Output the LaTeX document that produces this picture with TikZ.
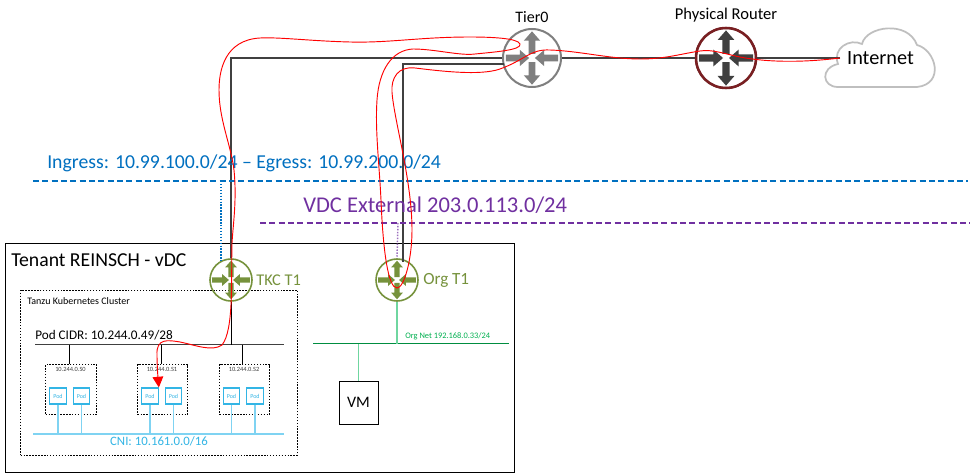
\documentclass[tikz,border=0pt]{standalone}
\usepackage{fontspec}
\setmainfont{Carlito}
\usetikzlibrary{arrows.meta}
\definecolor{rgray}{HTML}{7F7F7F}
\definecolor{rdark}{HTML}{404040}
\definecolor{rmaroon}{HTML}{7A1F22}
\definecolor{rgreen}{HTML}{76923C}
\definecolor{ablue}{HTML}{0070C0}
\definecolor{apurple}{HTML}{7030A0}
\definecolor{podblue}{HTML}{33B5E5}
\definecolor{cnilight}{HTML}{7FD3F2}
\definecolor{netgreen}{HTML}{00B050}
\definecolor{stemgreen}{HTML}{6FD6A0}
\definecolor{cloudgray}{HTML}{BFBFBF}
\definecolor{pathred}{HTML}{FF0000}
\tikzset{
  wire/.style={draw=rdark,line width=0.8pt},
  blackwire/.style={draw=black,line width=0.75pt},
  dotbox/.style={draw=black,dash pattern=on 1.1pt off 1.1pt,line width=0.85pt,inner sep=0pt},
  podbox/.style={draw=podblue,line width=0.8pt,fill=white,minimum width=12.5pt,minimum height=12pt,inner sep=0pt,font=\fontsize{4.5}{5}\selectfont,text=podblue},
  podstem/.style={draw=cnilight,line width=1pt},
  label/.style={inner sep=0pt,anchor=west},
  bluedash/.style={draw=ablue,dash pattern=on 4.5pt off 2.5pt,line width=1.2pt},
  purpledash/.style={draw=apurple,dash pattern=on 4.5pt off 2.5pt,line width=1.2pt},
  redpath/.style={draw=pathred,line width=0.7pt},
}
\newcommand{\routerglyph}[6]{%
  \node[circle,draw=#5,line width=#6,minimum size=#4*1.5pt,inner sep=0pt] (#1) at (#2,#3) {};
  \pgfmathsetmacro{\rrunit}{#4*0.75}
  \begin{scope}[shift={(#1)},x=\rrunit pt,y=\rrunit pt]
    \foreach \a in {0,180}{
      \fill[rotate=\a,fill=#5] (-0.9,-.12)--(-0.42,-.12)--(-0.42,-.28)--(-0.1,0)--(-.42,.28)--(-.42,.12)--(-.9,.12)--cycle;
    }
    \foreach \a in {90,270}{
      \fill[rotate=\a,fill=#5] (0.14,-.12)--(0.6,-.12)--(0.6,-.28)--(0.92,0)--(.6,.28)--(.6,.12)--(.14,.12)--cycle;
    }
  \end{scope}
}
\begin{document}
\begin{tikzpicture}[x=0.75pt,y=-0.75pt]
\useasboundingbox (0,0) rectangle (971,474);
\fill[white] (0,0) rectangle (971,474);

% boxes
\node[draw=black,line width=0.75pt,minimum width=381.75pt,minimum height=171.75pt,inner sep=0pt,anchor=north west] (tenant) at (5,243) {};
\node[dotbox,minimum width=207.75pt,minimum height=123.75pt,anchor=north west] (tanzu) at (20,289.5) {};

% routers
\routerglyph{tier}{532}{58}{29}{rgray}{1.5pt}
\routerglyph{phys}{726}{58}{30}{rdark}{1.5pt}
\node[circle,draw=rmaroon,line width=1.9pt,minimum size=45pt,inner sep=0pt] at (phys) {};
\routerglyph{tkc}{231}{280}{21}{rgreen}{1.2pt}
\routerglyph{org}{397}{280}{21}{rgreen}{1.2pt}

% cloud
\draw[draw=cloudgray,line width=1.3pt,fill=white]
  (838,87) .. controls (822,87) and (820,68) .. (838,64)
  .. controls (832,48) and (850,38) .. (862,44)
  .. controls (866,26) and (908,20) .. (917,45)
  .. controls (936,50) and (945,84) .. (917,87) -- cycle;
\node[inner sep=0pt,font=\fontsize{15.2}{17}\selectfont] (inet) at (880.5,58) {Internet};

% labels at top
\node[inner sep=0pt,font=\fontsize{12}{14}\selectfont] (tierl) at (532,17) {Tier0};
\node[inner sep=0pt,font=\fontsize{12.4}{14}\selectfont] (physl) at (726,15) {Physical Router};

% main wires
\coordinate (top1) at (231,58);
\coordinate (top2) at (403,64);
\coordinate (top2b) at (403,262);
\coordinate (tier2) at (504,64);
\draw[wire] (tkc.north) -- (top1) -- (tier.west);
\draw[wire] (top2b) -- (top2) -- (tier2);
\draw[wire] (tier.east) -- (phys.west);
\coordinate (cloudw) at (840,58);
\draw[wire] (phys.east) -- (cloudw);

% subnet dashed lines
\coordinate (bl) at (33,181); \coordinate (br) at (968,181);
\coordinate (pl) at (260,223); \coordinate (pr) at (970,223);
\draw[bluedash] (bl) -- (br);
\draw[purpledash] (pl) -- (pr);
\coordinate (bt) at (221,181); \coordinate (bb) at (221,261);
\coordinate (pt) at (398,223);
\draw[draw=ablue,dash pattern=on 1.1pt off 1.1pt,line width=0.9pt] (bt) -- (bb);
\draw[draw=apurple!70,dash pattern=on 1.1pt off 1.1pt,line width=1.1pt] (pt) -- (org.north);
\node[label,text=ablue,font=\fontsize{14.8}{17}\selectfont] (ingress) at (47,163) {Ingress: 10.99.100.0/24 -- Egress: 10.99.200.0/24};
\node[label,text=apurple,font=\fontsize{16.9}{19}\selectfont] (vdc) at (303,205) {VDC External 203.0.113.0/24};

% tenant labels
\node[label,font=\fontsize{14.8}{17}\selectfont] (tl) at (11,260) {Tenant REINSCH - vDC};
\node[label,font=\fontsize{7.5}{9}\selectfont] (tz) at (27,301) {Tanzu Kubernetes Cluster};
\node[label,text=rgreen,font=\fontsize{12.3}{14}\selectfont] (tkcl) at (256,280) {TKC T1};
\node[label,text=rgreen,font=\fontsize{12.8}{14}\selectfont] (orgl) at (423,280) {Org T1};

% pod network
\coordinate (cidrl) at (35,344.5); \coordinate (cidrr) at (284,344.5);
\draw[wire] (cidrl) -- (cidrr);
\node[label,font=\fontsize{9.9}{12}\selectfont] (cidrt) at (35,335) {Pod CIDR: 10.244.0.49/28};
\coordinate (tkcd) at (231,344.5);
\draw[blackwire] (tkc.south) -- (tkcd);

\node[dotbox,minimum width=38.25pt,minimum height=37.5pt,anchor=north west] (ds0) at (45,364) {};
\node[dotbox,minimum width=37.5pt,minimum height=37.5pt,anchor=north west] (ds1) at (137,364) {};
\node[dotbox,minimum width=37.5pt,minimum height=37.5pt,anchor=north west] (ds2) at (219,364) {};
\coordinate (s0) at (69,344.5);
\coordinate (s1) at (161,344.5);
\coordinate (s2) at (242,344.5);
\draw[blackwire] (s0) -- (s0 |- ds0.north);
\draw[blackwire] (s1) -- (s1 |- ds1.north);
\draw[blackwire] (s2) -- (s2 |- ds2.north);
\node[inner sep=0pt,text=rdark,font=\fontsize{4.8}{5}\selectfont] (ds0t) at (70.5,369.5) {10.244.0.S0};
\node[inner sep=0pt,text=rdark,font=\fontsize{4.8}{5}\selectfont] (ds1t) at (162,369.5) {10.244.0.S1};
\node[inner sep=0pt,text=rdark,font=\fontsize{4.8}{5}\selectfont] (ds2t) at (244,369.5) {10.244.0.S2};

\coordinate (cnil) at (33,434); \coordinate (cnir) at (284,434);
\draw[draw=cnilight,line width=1.6pt] (cnil) -- (cnir);
\node[podbox] (p1) at (58,396) {Pod};
\node[podbox] (p2) at (81.5,396) {Pod};
\node[podbox] (p3) at (150,396) {Pod};
\node[podbox] (p4) at (173.5,396) {Pod};
\node[podbox] (p5) at (231.5,396) {Pod};
\node[podbox] (p6) at (255,396) {Pod};
\foreach \p in {p1,p2,p3,p4,p5,p6}{
  \draw[podstem] (\p.south) -- (\p.south |- cnil);
}
\node[fill=white,inner sep=1pt,text=podblue,font=\fontsize{9.6}{11}\selectfont] (cni) at (159,441.5) {CNI: 10.161.0.0/16};

% org network
\coordinate (onl) at (313,343.5); \coordinate (onr) at (509,343.5);
\draw[draw=netgreen!80!black,line width=0.8pt] (onl) -- (onr);
\draw[draw=stemgreen,line width=1pt] (org.south) -- (org.south |- onl);
\node[draw=black,line width=0.75pt,minimum width=29.25pt,minimum height=32.25pt,inner sep=0pt,font=\fontsize{12}{14}\selectfont] (vm) at (358.5,402.5) {VM};
\draw[draw=stemgreen,line width=1pt] (vm.north) -- (vm.north |- onl);
\node[label,text=netgreen,font=\fontsize{6.3}{8}\selectfont] (onlbl) at (405,336.5) {Org Net 192.168.0.33/24};

% red traffic path
\draw[redpath,-{Triangle[length=8pt,width=8pt]}] (cloudw)
  .. controls (800,63) and (765,62) .. (740,57)
  .. controls (725,54) and (712,49) .. (700,51)
  .. controls (680,54) and (665,59) .. (640,59)
  .. controls (610,59) and (580,51) .. (550,50)
  .. controls (530,49) and (525,60) .. (500,69)
  .. controls (480,76) and (440,71) .. (415,68)
  .. controls (398,66) and (391,78) .. (392,92)
  .. controls (394,120) and (412,180) .. (412,230)
  .. controls (412,260) and (404,288) .. (397,288)
  .. controls (388,288) and (383,250) .. (381,200)
  .. controls (379,160) and (375,130) .. (377,100)
  .. controls (379,70) and (392,50) .. (413,49)
  .. controls (435,49) and (460,56) .. (475,54)
  .. controls (495,52) and (522,50) .. (520,44)
  .. controls (518,38) and (490,37) .. (470,37)
  .. controls (420,37) and (390,43) .. (350,42)
  .. controls (310,41) and (280,37) .. (260,38)
  .. controls (225,40) and (219,70) .. (219,90)
  .. controls (219,120) and (231,145) .. (234,170)
  .. controls (237,200) and (233,225) .. (232,243)
  .. controls (231,280) and (234,330) .. (222,345)
  .. controls (212,352) and (195,345) .. (180,342)
  .. controls (168,340) and (156,338) .. (157,355)
  .. controls (157,365) and (158,378) .. (p3.north east);
\end{tikzpicture}
\end{document}
